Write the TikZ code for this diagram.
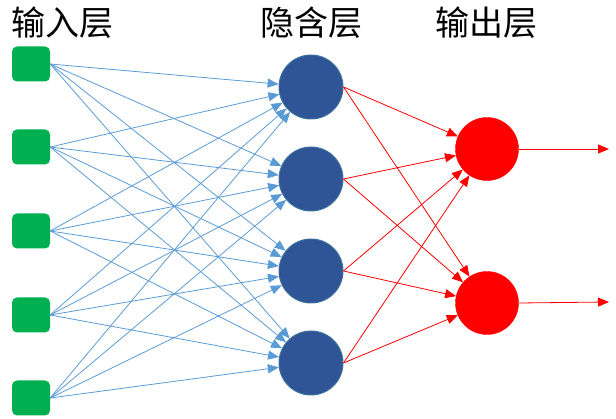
\documentclass[tikz,border=0pt]{standalone}
\usepackage{fontspec}
\newfontfamily\cjk{Noto Sans CJK SC}
\usetikzlibrary{arrows.meta}
\definecolor{ingreen}{HTML}{00B050}
\definecolor{hidblue}{HTML}{2F5597}
\definecolor{hidedge}{HTML}{41719C}
\definecolor{lineblue}{HTML}{5B9BD5}
\definecolor{outred}{HTML}{FF0000}
\begin{document}
\begin{tikzpicture}[x=1pt,y=-1pt,
  inbox/.style={rectangle,rounded corners=5pt,fill=ingreen,minimum width=38pt,minimum height=35pt,inner sep=0pt},
  hidnode/.style={circle,fill=hidblue,draw=hidedge,line width=1pt,minimum size=64pt,inner sep=0pt},
  outnode/.style={circle,fill=outred,draw=outred,minimum size=63pt,inner sep=0pt},
  blueedge/.style={draw=lineblue,line width=0.8pt,-{Triangle[length=11pt,width=9pt]}},
  rededge/.style={draw=outred,line width=0.8pt,-{Triangle[length=11pt,width=9pt]}},
  title/.style={font=\cjk\fontsize{34}{36}\selectfont,inner sep=0pt}]
\useasboundingbox (0,0) rectangle (616,419);
\node[title] (t1) at (63,23) {输入层};
\node[title] (t2) at (311,23) {隐含层};
\node[title] (t3) at (486,23) {输出层};
\foreach \i/\y in {1/64,2/147,3/231,4/315,5/398}{
  \node[inbox] (i\i) at (31,\y) {};
}
\foreach \j/\y in {1/87,2/179,3/271,4/363}{
  \node[hidnode] (h\j) at (311,\y) {};
}
\node[outnode] (o1) at (487,149) {};
\node[outnode] (o2) at (487,303) {};
\coordinate (e1) at (609,149);
\coordinate (e2) at (609,302);
\foreach \i in {1,...,5}{
  \foreach \j in {1,...,4}{
    \draw[blueedge] (i\i.east) -- (h\j);
  }
}
\foreach \j in {1,...,4}{
  \foreach \k in {1,2}{
    \draw[rededge] (h\j.east) -- (o\k);
  }
}
\draw[rededge] (o1.east) -- (e1);
\draw[rededge] (o2.east) -- (e2);
\end{tikzpicture}
\end{document}
